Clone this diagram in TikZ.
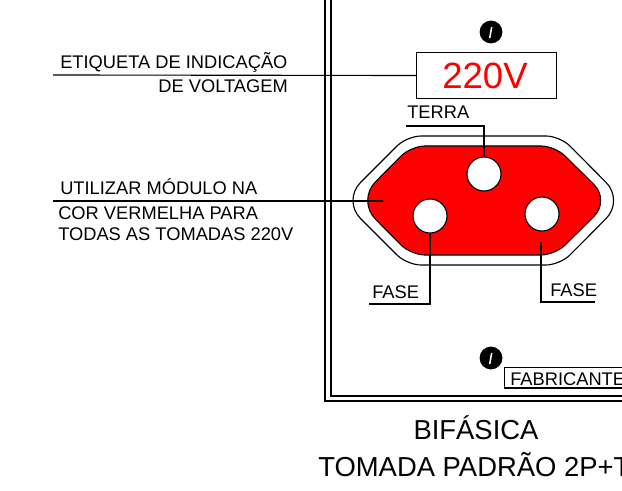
\documentclass[tikz,border=0pt]{standalone}
\usepackage{fontspec}
\setmainfont{Liberation Sans}

\tikzset{
  fio/.style={line width=0.8pt,color=black},
  parede/.style={line width=0.9pt,color=black},
  furo/.style={circle,draw,line width=0.8pt,fill=white,minimum size=0.85cm,inner sep=0pt},
  parafuso/.style={circle,fill=black,minimum size=0.57cm,inner sep=0pt},
  rotulo/.style={font=\fontsize{13}{15}\selectfont,inner sep=0pt},
  titulo/.style={font=\fontsize{19.5}{23}\selectfont,inner sep=0pt}
}

\begin{document}
\begin{tikzpicture}[x=0.025cm,y=-0.025cm]

% ------------------------------------------------ colors
\definecolor{tomada_red}{RGB}{255,0,0}

\clip (0,0) rectangle (622,491);

% ------------------------------------------------ wall plate
\draw [parede] (325,0) -- (325,401) -- (622,401);
\draw [parede] (331,0) -- (331,396) -- (622,396);

% ------------------------------------------------ socket
\draw [fio] (484,136) [rounded corners=10pt] -- (407,136) [rounded corners=18pt] -- (342.5,200.5)
  [rounded corners=10pt] -- (407,265) -- (560,265) [rounded corners=18pt] -- (624,200.5)
  [rounded corners=10pt] -- (560,136) -- cycle;
\draw [fio,fill=tomada_red] (484,146) [rounded corners=10pt] -- (411,146) [rounded corners=18.5pt] -- (357,200.5)
  [rounded corners=10pt] -- (411,255) -- (555,255) [rounded corners=16pt] -- (610,200.5)
  [rounded corners=10pt] -- (555,146) -- cycle;

\node [furo] (terra) at (484,174) {};
\node [furo] (fase_a) at (430,216) {};
\node [furo] (fase_b) at (542,214) {};

% ------------------------------------------------ screws
\node [parafuso] (screw_top) at (491,32) {};
\node [parafuso] (screw_bot) at (491,358) {};
\draw [white,line width=1.1pt] (489.7,38) -- (491.7,27);
\draw [white,line width=1.1pt] (489.7,364) -- (491.7,353);

% ------------------------------------------------ voltage label
\node [draw,line width=0.8pt,minimum width=3.5cm,minimum height=1.17cm,inner sep=0pt] (etiqueta) at (486.5,75.5) {};
\node [anchor=base,inner sep=0pt,color=tomada_red,font=\fontsize{26}{30}\selectfont] (volt) at (485,89) {220V};

\draw [fio] (640,367.5) -- (504.5,367.5) -- (504.5,388) -- (640,388);
\node [rotulo,anchor=base west] (fabricante) at (510,385) {FABRICANTE};

% ------------------------------------------------ leaders
\coordinate (lead_a) at (53,75);
\coordinate (lead_b) at (53,201);
\coordinate (lead_b_end) at (383,201);
\coordinate (lead_t) at (406,126);
\coordinate (lead_f) at (369,304);
\coordinate (lead_g) at (595,302);
\coordinate (lead_g_top) at (541,242);

\draw [fio] (lead_a) -- (etiqueta.west);
\draw [fio] (lead_b) -- (lead_b_end);
\draw [fio] (lead_t) -| (terra.north);
\draw [fio] (lead_f) -| (fase_a.south);
\draw [fio] (lead_g) -| (lead_g_top);

% ------------------------------------------------ texts
\node [rotulo,anchor=base west] (txt_a) at (60,69) {ETIQUETA DE INDICAÇÃO};
\node [rotulo,anchor=base east] (txt_b) at (288,93) {DE VOLTAGEM};
\node [rotulo,anchor=base west] (txt_c) at (60,195) {UTILIZAR MÓDULO NA};
\node [rotulo,anchor=base west] (txt_d) at (58,219) {COR VERMELHA PARA};
\node [rotulo,anchor=base west] (txt_e) at (58,240) {TODAS AS TOMADAS 220V};
\node [rotulo,anchor=base west] (txt_t) at (407,119) {TERRA};
\node [rotulo,anchor=base west] (txt_f) at (372,298) {FASE};
\node [rotulo,anchor=base west] (txt_g) at (550,296) {FASE};

\node [titulo,anchor=base] (bifasica) at (476,439) {BIFÁSICA};
\node [titulo,anchor=base west] (padrao) at (318,476) {TOMADA PADRÃO 2P+T};

\end{tikzpicture}
\end{document}
